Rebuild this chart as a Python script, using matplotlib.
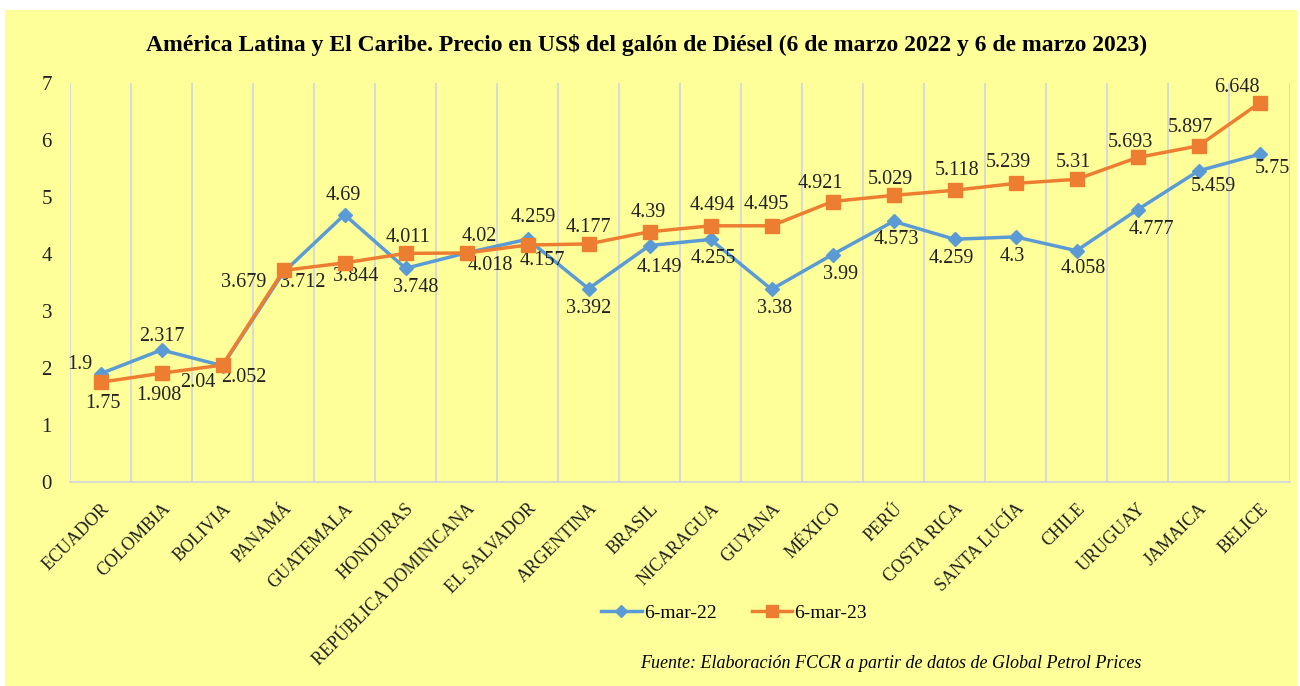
import matplotlib.pyplot as plt
from matplotlib.patches import Rectangle

# Datos
paises = ["ECUADOR", "COLOMBIA", "BOLIVIA", "PANAMÁ", "GUATEMALA", "HONDURAS",
          "REPÚBLICA DOMINICANA", "EL SALVADOR", "ARGENTINA", "BRASIL", "NICARAGUA",
          "GUYANA", "MÉXICO", "PERÚ", "COSTA RICA", "SANTA LUCÍA", "CHILE",
          "URUGUAY", "JAMAICA", "BELICE"]
mar22 = [1.9, 2.317, 2.04, 3.679, 4.69, 3.748, 4.02, 4.259, 3.392, 4.149, 4.255,
         3.38, 3.99, 4.573, 4.259, 4.3, 4.058, 4.777, 5.459, 5.75]
mar23 = [1.75, 1.908, 2.052, 3.712, 3.844, 4.011, 4.018, 4.157, 4.177, 4.39, 4.494,
         4.495, 4.921, 5.029, 5.118, 5.239, 5.31, 5.693, 5.897, 6.648]

# posicion de las etiquetas: (dx, dy) en puntos
pos22 = [(-15, 6.5), (0, 9.5), (-18, -12), (-29, -7), (-1, 14), (7, -14), (9, 11.5),
         (4, 16), (0, -14), (7, -16), (2, -14), (2, -14), (6, -14), (2, -13),
         (-2, -14), (-2, -14), (5, -12.5), (10, -14.5), (11, -11.5), (9, -10)]
pos23 = [(2, -15), (-2, -16), (15, -9), (14, -8.5), (8, -10), (2, 11.5), (17, -9),
         (11, -11), (0, 11.5), (-1, 14), (1, 15), (-4, 15), (-9, 13), (-2, 11.5),
         (2, 14), (-5, 15), (-2, 12), (-5, 11), (-6, 13), (-16, 11.5)]

amarillo = "#FFFF99"
azul = "#5B9BD5"
naranja = "#ED7D31"
serif = "Liberation Serif"

fig = plt.figure(figsize=(13, 6.86), dpi=100)
fig.patch.set_facecolor("white")
fig.patches.append(Rectangle((5 / 1300, 0), 1292 / 1300, 676 / 686,
                             transform=fig.transFigure, facecolor=amarillo,
                             edgecolor="none", zorder=-10))

ax = fig.add_axes([70 / 1300, 1 - 482 / 686, 1220 / 1300, 399 / 686])
ax.set_facecolor(amarillo)
x = list(range(len(paises)))

ax.plot(x, mar22, color=azul, lw=2.5, marker="D", ms=7.5, label="6-mar-22", zorder=3)
ax.plot(x, mar23, color=naranja, lw=2.5, marker="s", ms=10, label="6-mar-23", zorder=4)

for i in x:
    ax.annotate(f"{mar22[i]:g}", (i, mar22[i]), xytext=pos22[i], textcoords="offset points",
                ha="center", va="center", fontsize=14.5, family=serif, color="#222222")
    ax.annotate(f"{mar23[i]:g}", (i, mar23[i]), xytext=pos23[i], textcoords="offset points",
                ha="center", va="center", fontsize=14.5, family=serif, color="#222222")

ax.set_xlim(-0.5, len(paises) - 0.5)
ax.set_ylim(0, 7)
ax.set_yticks(range(8))
ax.set_yticklabels([str(v) for v in range(8)], fontsize=15, family=serif, color="#222222")
ax.tick_params(axis="y", length=0, pad=13)
ax.set_xticks(x)
ax.set_xticklabels(paises, rotation=45, ha="right", va="top", rotation_mode="anchor",
                   fontsize=13, family=serif, color="#222222")
ax.tick_params(axis="x", length=0, pad=13)
for xi in [i - 0.5 for i in range(len(paises) + 1)]:
    ax.axvline(xi, color="#D0D4E0", lw=1.2, zorder=1)
for s in ["top", "right", "left"]:
    ax.spines[s].set_visible(False)
ax.spines["bottom"].set_color("#D0D4E0")
ax.spines["bottom"].set_linewidth(1.2)

fig.text(647 / 1300, 1 - 45 / 686,
         "América Latina y El Caribe. Precio en US$ del galón de Diésel (6 de marzo 2022 y 6 de marzo 2023)",
         ha="center", va="center", fontsize=17, fontweight="bold", family=serif)

fig.legend(loc="center", bbox_to_anchor=(734 / 1300, 1 - 613 / 686), ncol=2, frameon=False,
           prop={"family": serif, "size": 14}, handlelength=2.1, columnspacing=1.8,
           handletextpad=0.1, markerscale=0.8)

fig.text(891 / 1300, 1 - 664 / 686,
         "Fuente: Elaboración FCCR a partir de datos de Global Petrol Prices",
         ha="center", va="center", fontsize=13, style="italic", family=serif)

fig.savefig("out.png", dpi=100)
